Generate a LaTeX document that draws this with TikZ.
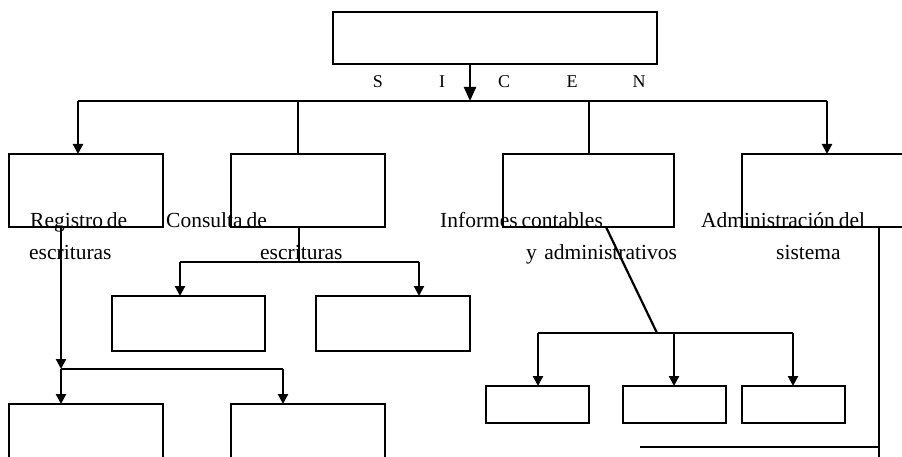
\documentclass[tikz,border=0pt]{standalone}
\usepackage{fontspec}
\setmainfont{Liberation Serif}
\usetikzlibrary{arrows.meta}
\newcommand\labelfont{\fontsize{21.5}{26}\selectfont\spaceskip=0.18em\relax}
\begin{document}
\begin{tikzpicture}[x=1pt,y=-1pt,
  box/.style={draw, line width=2.2pt, rectangle, inner sep=0pt, outer sep=0pt},
  link/.style={line width=2.2pt},
  arr/.style={link, -{Triangle[length=10pt,width=10pt]}},
  bigarr/.style={link, -{Triangle[length=14pt,width=12pt]}},
  lbl/.style={anchor=base west, inner sep=0pt, font=\labelfont},
  letter/.style={anchor=base, inner sep=0pt, font=\fontsize{18}{22}\selectfont}]
\useasboundingbox (0,0) rectangle (902,457);
\clip (0,0) rectangle (902,457);

% root
\node[box, minimum width=324pt, minimum height=52pt] (root) at (495,38) {};
\node[letter] (sS) at (378,88) {S};
\node[letter] (sI) at (442,88) {I};
\node[letter] (sC) at (504,88) {C};
\node[letter] (sE) at (572,88) {E};
\node[letter] (sN) at (639,88) {N};

% first level
\node[box, minimum width=154pt, minimum height=73pt] (reg) at (86,190.5) {};
\node[box, minimum width=154pt, minimum height=73pt] (con) at (308,190.5) {};
\node[box, minimum width=171pt, minimum height=73pt] (inf) at (588.5,190.5) {};
\node[box, minimum width=200pt, minimum height=73pt] (adm) at (842,190.5) {};

\node[lbl] (lreg1) at (30,227) {Registro de};
\node[lbl] (lreg2) at (29,259) {escrituras};
\node[lbl] (lcon1) at (166,227) {Consulta de};
\node[lbl] (lcon2) at (260,259) {escrituras};
\node[lbl] (linf1) at (440,227) {Informes contables};
\node[lbl] (linf2) at (526,259) {y\, administrativos};
\node[lbl] (ladm1) at (701,227) {Administración del};
\node[lbl] (ladm2) at (776,259) {sistema};

% second level
\node[box, minimum width=153pt, minimum height=55pt] (con1) at (188.5,323.5) {};
\node[box, minimum width=154pt, minimum height=55pt] (con2) at (393,323.5) {};
\node[box, minimum width=154pt, minimum height=80pt] (reg1) at (86,444) {};
\node[box, minimum width=154pt, minimum height=80pt] (reg2) at (308,444) {};
\node[box, minimum width=103pt, minimum height=37pt] (inf1) at (537.5,404.5) {};
\node[box, minimum width=103pt, minimum height=37pt] (inf2) at (674.5,404.5) {};
\node[box, minimum width=103pt, minimum height=37pt] (inf3) at (793.5,404.5) {};

% root bus
\coordinate (busL) at (78,101);
\coordinate (busR) at (827,101);
\coordinate (busM) at (470,101);
\coordinate (busB) at (298,101);
\coordinate (busC) at (589,101);
\draw[link] (busL) -- (busR);
\draw[bigarr] (root.south -| busM) -- (busM);
\draw[arr] (busL) -- (busL |- reg.north);
\draw[arr] (busR) -- (busR |- adm.north);
\draw[link] (busB) -- (busB |- con.north);
\draw[link] (busC) -- (busC |- inf.north);

% consulta branch
\coordinate (conJ) at (299,262);
\coordinate (conL) at (180,262);
\coordinate (conR) at (419,262);
\draw[link] (con.south -| conJ) -- (conJ);
\draw[link] (conL) -- (conR);
\draw[arr] (conL) -- (conL |- con1.north);
\draw[arr] (conR) -- (conR |- con2.north);

% registro branch
\coordinate (regJ) at (61,369);
\coordinate (regR) at (283,369);
\draw[arr] (reg.south -| regJ) -- (regJ);
\draw[link] (regJ) -- (regR);
\draw[arr] (regJ) -- (regJ |- reg1.north);
\draw[arr] (regR) -- (regR |- reg2.north);

% informes branch
\coordinate (infS) at (606,227);
\coordinate (infJ) at (657,333);
\coordinate (infL) at (538,333);
\coordinate (infM) at (674,333);
\coordinate (infR) at (793,333);
\draw[link] (infS) -- (infJ);
\draw[link] (infL) -- (infR);
\draw[arr] (infL) -- (infL |- inf1.north);
\draw[arr] (infM) -- (infM |- inf2.north);
\draw[arr] (infR) -- (infR |- inf3.north);

% administracion branch
\coordinate (admS) at (879,227);
\coordinate (admE) at (879,460);
\coordinate (admH) at (640,447);
\draw[link] (admS) -- (admE);
\draw[link] (admH) -- (admH -| admS);
\end{tikzpicture}
\end{document}
